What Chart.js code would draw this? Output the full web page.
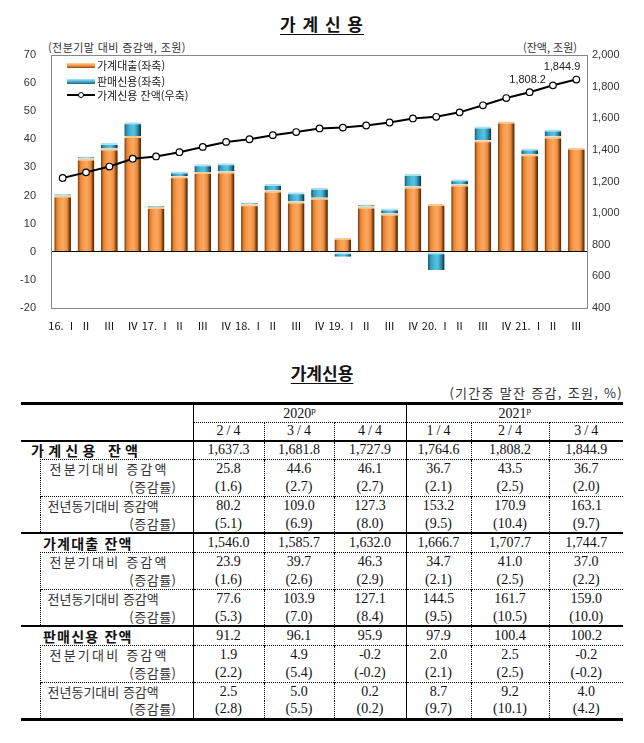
<!DOCTYPE html>
<html lang="ko">
<head>
<meta charset="UTF-8">
<title>가계신용</title>
<script src="https://cdn.jsdelivr.net/npm/chart.js"></script>
<style>
    body { margin: 0; background: #fff; }
    #page { position: relative; width: 644px; height: 743px; overflow: hidden;
            font-family: 'Noto Sans CJK KR', sans-serif; color: #222; }
    .abs { position: absolute; white-space: nowrap; }
    #title { left: 0; width: 644px; top: 13px; line-height: 22px; text-align: center;
             font-size: 17px; font-weight: 700; color: #111; }
    #title span { text-decoration: underline; text-underline-offset: 3px; letter-spacing: 1px; }
    #unitL { left: 48px; top: 39px; font-size: 11px; line-height: 16px; color: #333; letter-spacing: 0.4px; }
    #unitR { left: 523px; top: 39px; font-size: 11px; line-height: 16px; color: #333; }
    #chart { position: absolute; left: 0; top: 0; }
    .leg { left: 67px; height: 14px; line-height: 14px; font-size: 11px; color: #222; }
    .sw { display: inline-block; position: relative; width: 28px; height: 14px; vertical-align: top; margin-right: 2px; }
    .sw i { position: absolute; left: 0; top: 5px; width: 28px; height: 5px; }
    .sw.or i { background: linear-gradient(#fdd3a4, #f59a4c 45%, #c96c23 80%, #7e4215); }
    .sw.bl i { background: linear-gradient(#b0e7f3, #4db6d3 45%, #2a87a7 80%, #1c566c); }
    .sw.ln i { top: 6px; height: 2px; background: #000; }
    .sw.ln b { position: absolute; left: 11px; top: 4px; width: 4px; height: 4px; border: 1px solid #000;
               border-radius: 50%; background: #fff; }
    #ttitle { left: 0; width: 644px; top: 362px; line-height: 22px; text-align: center;
              font-size: 17px; font-weight: 700; color: #111; }
    #ttitle span { text-decoration: underline; text-underline-offset: 3px; }
    #tunit { right: 21px; top: 384px; line-height: 18px; font-size: 13px; letter-spacing: 1.3px; color: #333; }
    #tbl { position: absolute; left: 21px; top: 402px; width: 602px; border-collapse: collapse; table-layout: fixed; }
    #tbl td { padding: 0; text-align: center; vertical-align: middle; white-space: nowrap; overflow: hidden;
              font-family: 'Liberation Serif', serif; font-size: 14px; line-height: 14px; color: #111; }
    #tbl tr { height: 18.6px; }
    #tbl tr.h1 { height: 19px; }
    #tbl tr.h2 { height: 18px; }
    #tbl tr.first td { border-top: 3px solid #000; }
    #tbl tr.last td { border-bottom: 3px solid #000; }
    #tbl tr.main td { border-top: 2px solid #000; }
    #tbl td.lh { border-right: 1px solid #000; }
    #tbl td.yr { border-bottom: 1px dotted #000; }
    #tbl td.sep { border-right: 1px solid #000; }
    #tbl td.dot { border-right: 1px dotted #000; }
    #tbl td.pd { letter-spacing: 3px; padding-left: 3px; }
    #tbl tr.grp td.c1, #tbl tr.grp td.d { border-top: 1px dotted #000; }
    #tbl td.c1 { border-left: 1px dotted #000; border-right: 1px solid #000; text-align: left;
                 font-family: 'Noto Sans CJK KR', sans-serif; font-size: 13px; line-height: 14px; color: #333; }
    #tbl td.c1.q { padding-left: 9px; letter-spacing: 2.2px; }
    #tbl td.c1.y { padding-left: 7px; letter-spacing: 0; }
    #tbl td.c1.r { text-align: right; padding-right: 16px; letter-spacing: 0.5px; }
    #tbl td.ml { text-align: left; border-right: 1px solid #000; font-family: 'Noto Sans CJK KR', sans-serif;
                 font-weight: 700; font-size: 14px; line-height: 14px; color: #111; }
    #tbl td.ml.s0 { padding-left: 10px; letter-spacing: 4.3px; }
    #tbl td.ml.s1 { padding-left: 22px; letter-spacing: 1.2px; }
    sup { font-size: 9px; vertical-align: 5px; line-height: 0; }
</style>
</head>
<body>
<div id="page">
    <div id="title" class="abs"><span>가 계 신 용</span></div>
    <div id="unitL" class="abs">(전분기말 대비 증감액, 조원)</div>
    <div id="unitR" class="abs">(잔액, 조원)</div>
    <canvas id="chart" width="644" height="340"></canvas>
    <div class="abs leg" style="top:58px"><span class="sw or"><i></i></span>가계대출(좌축)</div>
    <div class="abs leg" style="top:74px"><span class="sw bl"><i></i></span>판매신용(좌축)</div>
    <div class="abs leg" style="top:88px"><span class="sw ln"><i></i><b></b></span>가계신용 잔액(우축)</div>

    <div id="ttitle" class="abs"><span>가계신용</span></div>
    <div id="tunit" class="abs">(기간중 말잔 증감, 조원, %)</div>
    <table id="tbl">
        <colgroup>
            <col style="width:19px"><col style="width:153px">
            <col style="width:71px"><col style="width:70px"><col style="width:72px">
            <col style="width:65px"><col style="width:78px"><col style="width:74px">
        </colgroup>
        <tbody id="tbody"></tbody>
    </table>
</div>

<script>
    // chart data (quarterly, 2016 Q1 ~ 2021 Q3)
    const quarters = ['16. Ⅰ', 'Ⅱ', 'Ⅲ', 'Ⅳ', '17. Ⅰ', 'Ⅱ', 'Ⅲ', 'Ⅳ', '18. Ⅰ', 'Ⅱ', 'Ⅲ', 'Ⅳ',
                      '19. Ⅰ', 'Ⅱ', 'Ⅲ', 'Ⅳ', '20. Ⅰ', 'Ⅱ', 'Ⅲ', 'Ⅳ', '21. Ⅰ', 'Ⅱ', 'Ⅲ'];
    const loanChange = [20.0, 33.2, 36.7, 41.2, 15.9, 26.9, 28.4, 28.6, 16.9, 21.8, 17.9, 19.2,
                        5.0, 16.1, 13.6, 23.2, 17.0, 23.9, 39.7, 46.3, 34.7, 41.0, 37.0];
    const salesChange = [0.6, 0.7, 2.0, 4.9, 0.5, 1.7, 2.7, 2.9, 0.6, 2.3, 3.3, 3.6,
                         -1.8, 0.7, 1.8, 4.5, -6.5, 1.9, 4.9, -0.2, 2.0, 2.5, -0.2];
    const creditBalance = [1222.5, 1257.8, 1294.5, 1344.3, 1358.5, 1385.4, 1418.7, 1450.4, 1467.3, 1493.1, 1512.6, 1535.7,
                           1540.9, 1554.3, 1573.1, 1598.7, 1609.3, 1637.3, 1681.8, 1727.9, 1764.6, 1808.2, 1844.9];

    // table data
    const tableYears = ['2020', '2021'];
    const tablePeriods = ['2/4', '3/4', '4/4', '1/4', '2/4', '3/4'];
    const creditBal = [1637.3, 1681.8, 1727.9, 1764.6, 1808.2, 1844.9];
    const creditQoq = [25.8, 44.6, 46.1, 36.7, 43.5, 36.7];
    const creditQoqRate = [1.6, 2.7, 2.7, 2.1, 2.5, 2.0];
    const creditYoy = [80.2, 109.0, 127.3, 153.2, 170.9, 163.1];
    const creditYoyRate = [5.1, 6.9, 8.0, 9.5, 10.4, 9.7];
    const loanBal = [1546.0, 1585.7, 1632.0, 1666.7, 1707.7, 1744.7];
    const loanQoq = [23.9, 39.7, 46.3, 34.7, 41.0, 37.0];
    const loanQoqRate = [1.6, 2.6, 2.9, 2.1, 2.5, 2.2];
    const loanYoy = [77.6, 103.9, 127.1, 144.5, 161.7, 159.0];
    const loanYoyRate = [5.3, 7.0, 8.4, 9.5, 10.5, 10.0];
    const salesBal = [91.2, 96.1, 95.9, 97.9, 100.4, 100.2];
    const salesQoq = [1.9, 4.9, -0.2, 2.0, 2.5, -0.2];
    const salesQoqRate = [2.2, 5.4, -0.2, 2.1, 2.5, -0.2];
    const salesYoy = [2.5, 5.0, 0.2, 8.7, 9.2, 4.0];
    const salesYoyRate = [2.8, 5.5, 0.2, 9.7, 10.1, 4.2];

    const fmt1 = v => v.toLocaleString('en-US', { minimumFractionDigits: 1, maximumFractionDigits: 1 });

    // ---- table ----
    function dataCells(values, f) {
        return values.map((v, j) => {
            const cls = j === 2 ? 'd sep' : (j === 5 ? 'd' : 'd dot');
            return '<td class="' + cls + '">' + f(v) + '</td>';
        }).join('');
    }

    function buildTable() {
        const sections = [
            { name: '가계신용 잔액', cls: 's0', rows: [creditBal, creditQoq, creditQoqRate, creditYoy, creditYoyRate] },
            { name: '가계대출 잔액', cls: 's1', rows: [loanBal, loanQoq, loanQoqRate, loanYoy, loanYoyRate] },
            { name: '판매신용 잔액', cls: 's1', rows: [salesBal, salesQoq, salesQoqRate, salesYoy, salesYoyRate] }
        ];
        let html = '<tr class="h1 first"><td colspan="2" rowspan="2" class="lh"></td>' +
            '<td colspan="3" class="yr sep">' + tableYears[0] + '<sup>p</sup></td>' +
            '<td colspan="3" class="yr">' + tableYears[1] + '<sup>p</sup></td></tr>';
        html += '<tr class="h2">' + tablePeriods.map((p, j) => {
            const cls = j === 2 ? 'pd sep' : (j === 5 ? 'pd' : 'pd dot');
            return '<td class="' + cls + '">' + p + '</td>';
        }).join('') + '</tr>';

        const subLabels = [['전분기대비 증감액', 'q'], ['(증감률)', 'r'], ['전년동기대비 증감액', 'y'], ['(증감률)', 'r']];
        sections.forEach((s, si) => {
            html += '<tr class="main"><td colspan="2" class="ml ' + s.cls + '">' + s.name + '</td>' +
                dataCells(s.rows[0], fmt1) + '</tr>';
            subLabels.forEach((lab, k) => {
                const isRate = lab[1] === 'r';
                const trCls = (k % 2 === 0 ? 'grp' : '') + (si === 2 && k === 3 ? ' last' : '');
                html += '<tr class="' + trCls + '"><td></td><td class="c1 ' + lab[1] + '">' + lab[0] + '</td>' +
                    dataCells(s.rows[k + 1], isRate ? (v => '(' + v.toFixed(1) + ')') : (v => v.toFixed(1))) + '</tr>';
            });
        });
        document.getElementById('tbody').innerHTML = html;
    }
    buildTable();

    // ---- chart ----
    const orangeStops = [[0, '#8e4c16'], [0.1, '#e07f30'], [0.3, '#f89a4a'], [0.55, '#fba862'], [0.8, '#e98a3c'], [0.9, '#a85a1c'], [1, '#5e300c']];
    const blueStops = [[0, '#1d6580'], [0.1, '#2f98b8'], [0.35, '#49b7d6'], [0.6, '#57c2df'], [0.8, '#2e94b4'], [0.9, '#216f88'], [1, '#163f4e']];

    function barFill(stops) {
        return function (ctx) {
            const chart = ctx.chart;
            const xs = chart.scales.x;
            if (!xs || !chart.chartArea || ctx.dataIndex === undefined) return stops[3][1];
            const cx = xs.getPixelForValue(ctx.dataIndex);
            const w = (xs.width / quarters.length) * 0.64;
            const g = chart.ctx.createLinearGradient(cx - w / 2, 0, cx + w / 2, 0);
            stops.forEach(s => g.addColorStop(s[0], s[1]));
            return g;
        };
    }

    const frame = {
        id: 'frame',
        beforeDatasetsDraw(chart) {
            const a = chart.chartArea;
            const c = chart.ctx;
            c.save();
            c.strokeStyle = '#888';
            c.lineWidth = 1;
            c.strokeRect(Math.round(a.left) + 0.5, Math.round(a.top) + 0.5, Math.round(a.width) - 1, Math.round(a.height));
            c.restore();
        }
    };

    // value labels on the last two balance points
    const pointLabels = {
        id: 'pointLabels',
        afterDatasetsDraw(chart) {
            const pts = chart.getDatasetMeta(0).data;
            const n = pts.length;
            const c = chart.ctx;
            c.save();
            c.font = '11px "Liberation Sans", sans-serif';
            c.fillStyle = '#222';
            c.textAlign = 'right';
            c.textBaseline = 'middle';
            c.fillText(fmt1(creditBalance[n - 1]), pts[n - 1].x + 4, pts[n - 1].y - 13);
            c.fillText(fmt1(creditBalance[n - 2]), pts[n - 2].x - 7, pts[n - 2].y - 5);
            c.restore();
        }
    };

    const tickFont = { family: '"Liberation Sans", sans-serif', size: 11 };

    new Chart(document.getElementById('chart'), {
        data: {
            labels: quarters,
            datasets: [
                {
                    type: 'line', label: '가계신용 잔액(우축)', data: creditBalance, yAxisID: 'y1', order: 0,
                    borderColor: '#000', borderWidth: 2, tension: 0,
                    pointRadius: 3.3, pointBackgroundColor: '#fff', pointBorderColor: '#000', pointBorderWidth: 1.2
                },
                {
                    type: 'bar', label: '가계대출(좌축)', data: loanChange, yAxisID: 'y', stack: 's', order: 1,
                    backgroundColor: barFill(orangeStops), borderColor: '#fcc890',
                    borderWidth: { top: 2, left: 0, right: 0, bottom: 0 }, borderSkipped: false
                },
                {
                    type: 'bar', label: '판매신용(좌축)', data: salesChange, yAxisID: 'y', stack: 's', order: 1,
                    backgroundColor: barFill(blueStops), borderColor: '#a8e3f1',
                    borderWidth: { top: 2, left: 0, right: 0, bottom: 0 }, borderSkipped: false
                }
            ]
        },
        options: {
            responsive: false,
            animation: false,
            layout: { padding: { top: 55, left: 0, right: 0, bottom: 0 } },
            plugins: { legend: { display: false }, tooltip: { enabled: false } },
            scales: {
                x: {
                    stacked: true,
                    grid: { display: false, drawTicks: false },
                    border: { display: false },
                    ticks: { autoSkip: false, maxRotation: 0, padding: 11, color: '#111',
                             font: { family: '"Noto Sans CJK KR", sans-serif', size: 11 } },
                    afterFit(s) { s.height = 32; }
                },
                y: {
                    stacked: true, position: 'left', min: -20, max: 70,
                    ticks: { stepSize: 10, padding: 15, color: '#333', font: tickFont },
                    grid: { drawTicks: false, color: c => (c.tick && c.tick.value === 0 ? '#000' : 'rgba(0,0,0,0)') },
                    border: { display: false },
                    afterFit(s) { s.width = 51; }
                },
                y1: {
                    position: 'right', min: 400, max: 2000,
                    ticks: { stepSize: 200, padding: 4, color: '#333', font: tickFont,
                             callback: v => v.toLocaleString('en-US') },
                    grid: { display: false, drawTicks: false },
                    border: { display: false },
                    afterFit(s) { s.width = 56; }
                }
            }
        },
        plugins: [frame, pointLabels]
    });
</script>
</body>
</html>
